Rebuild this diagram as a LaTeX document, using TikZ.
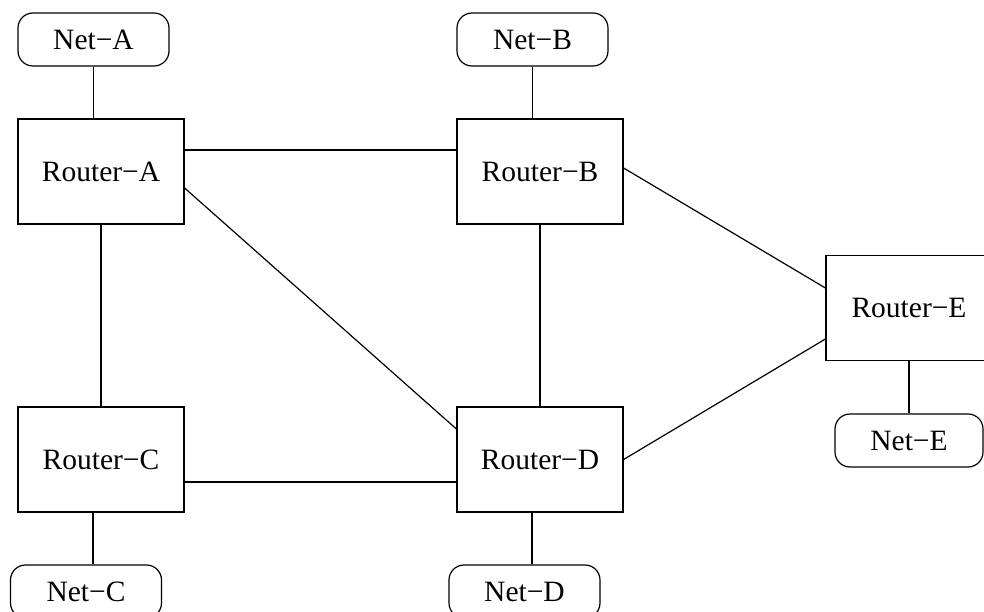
\documentclass[tikz,border=0pt]{standalone}
\usepackage{fontspec}
\setmainfont{Liberation Serif}
\begin{document}
\begin{tikzpicture}[x = 1pt, y = -1pt, line width = 1.2pt,
    font = \fontsize{29.5}{34}\selectfont,
    router/.style = {draw, inner sep = 0pt, minimum width = 166pt,
      minimum height = 105pt},
    net/.style = {draw, rounded corners = 15pt, inner sep = 0pt,
      minimum width = 151pt, minimum height = 53pt}]
  \useasboundingbox (0,0) rectangle (984,612);
  \node [router] (ra) at (101,171.5) {Router−A};
  \node [router] (rb) at (540,171.5) {Router−B};
  \node [router] (rc) at (101,459.5) {Router−C};
  \node [router] (rd) at (540,459.5) {Router−D};
  \node [router] (re) at (909,308)   {Router−E};
  \node [net] (na) at (93.5,39.5)  {Net−A};
  \node [net] (nb) at (532.5,39.5) {Net−B};
  \node [net] (nc) at (86,591.5)   {Net−C};
  \node [net] (nd) at (524.5,591.5) {Net−D};
  \node [net, minimum width = 148pt] (ne) at (909,440.5) {Net−E};
  % links to the nets
  \draw (na.south) -- (na.south |- ra.north);
  \draw (nb.south) -- (nb.south |- rb.north);
  \draw ([xshift = -8pt]rc.south) -- ([xshift = -8pt]rc.south |- nc.north);
  \draw ([xshift = -8pt]rd.south) -- ([xshift = -8pt]rd.south |- nd.north);
  \draw (re) -- (ne);
  % links between routers
  \draw ([yshift = 21.5pt]ra.east) -- ([yshift = 21.5pt]rb.west);
  \draw ([yshift = -22.5pt]rc.east) -- ([yshift = -22.5pt]rd.west);
  \draw (ra) -- (rc) (rb) -- (rd);
  \draw ([yshift = -16.5pt]ra.east) -- ([yshift = 30.5pt]rd.west);
  \draw ([yshift = 3.5pt]rb.east) -- ([yshift = 20pt]re.west);
  \draw (rd.east) -- ([yshift = -31pt]re.west);
\end{tikzpicture}
\end{document}
